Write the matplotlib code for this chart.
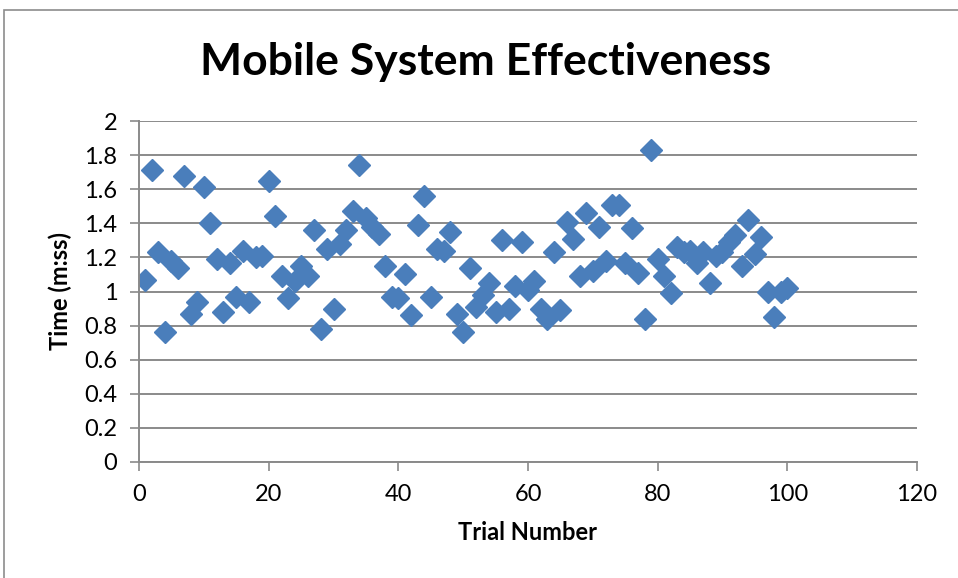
import matplotlib
matplotlib.use('Agg')
from matplotlib import pyplot as plt
from matplotlib.patches import Rectangle

# trial number vs time taken (m:ss as decimal)
trials = list(range(1, 101))
times = [
    1.07, 1.71, 1.23, 0.76, 1.18, 1.14, 1.68, 0.87, 0.94, 1.61,
    1.40, 1.19, 0.88, 1.17, 0.97, 1.24, 0.94, 1.20, 1.21, 1.65,
    1.44, 1.09, 0.96, 1.06, 1.15, 1.09, 1.36, 0.78, 1.25, 0.90,
    1.28, 1.36, 1.47, 1.74, 1.43, 1.38, 1.34, 1.15, 0.97, 0.96,
    1.10, 0.86, 1.39, 1.56, 0.97, 1.25, 1.24, 1.35, 0.87, 0.76,
    1.14, 0.91, 0.98, 1.05, 0.88, 1.30, 0.90, 1.03, 1.29, 1.01,
    1.06, 0.90, 0.84, 1.23, 0.89, 1.41, 1.31, 1.09, 1.46, 1.12,
    1.38, 1.18, 1.51, 1.51, 1.17, 1.37, 1.11, 0.84, 1.83, 1.19,
    1.09, 0.99, 1.26, 1.23, 1.24, 1.17, 1.23, 1.05, 1.21, 1.23,
    1.29, 1.33, 1.15, 1.42, 1.22, 1.32, 1.00, 0.85, 1.00, 1.02,
]
x_ticks = [0, 20, 40, 60, 80, 100, 120]
y_ticks = [0, 0.2, 0.4, 0.6, 0.8, 1, 1.2, 1.4, 1.6, 1.8, 2]
y_tick_labels = ['0', '0.2', '0.4', '0.6', '0.8', '1', '1.2', '1.4', '1.6', '1.8', '2']

plt.rcParams['font.family'] = ['Lato', 'DejaVu Sans']

fig = plt.figure(figsize=(9.58, 5.78), dpi=100)
ax = fig.add_axes([139/958, 116/578, 778/958, 341/578])

# chart area frame
fig.patches.append(Rectangle((4/958, -0.05), 1.2, 1.05 - 9.5/578,
                             transform=fig.transFigure, fill=False,
                             edgecolor='#8c8c8c', linewidth=1.2))

ax.set_axisbelow(True)
ax.yaxis.grid(True, color='#8a8a8a', linewidth=1.4)
ax.plot(trials, times, linestyle='none', marker='D', markersize=11.5,
        color='#4a7ebb', markeredgecolor='#4a7ebb')

ax.set_xlim(0, 120)
ax.set_ylim(0, 2)
ax.set_xticks(x_ticks)
ax.set_yticks(y_ticks)
ax.set_yticklabels(y_tick_labels)

for side in ['top', 'right']:
    ax.spines[side].set_visible(False)
for side in ['left', 'bottom']:
    ax.spines[side].set_color('#8a8a8a')
    ax.spines[side].set_linewidth(1.4)
ax.tick_params(axis='both', direction='out', length=6.5, width=1.2,
               color='#8a8a8a', labelsize=17, pad=9)

ax.set_xlabel('Trial Number', fontsize=17, fontweight='bold', labelpad=12)
ax.set_ylabel('Time (m:ss)', fontsize=17, fontweight='bold', labelpad=9)
fig.text(486/958, 1 - 62/578, 'Mobile System Effectiveness', ha='center',
         va='center', fontsize=32, fontweight='bold')

fig.savefig('out.png', dpi=100)
